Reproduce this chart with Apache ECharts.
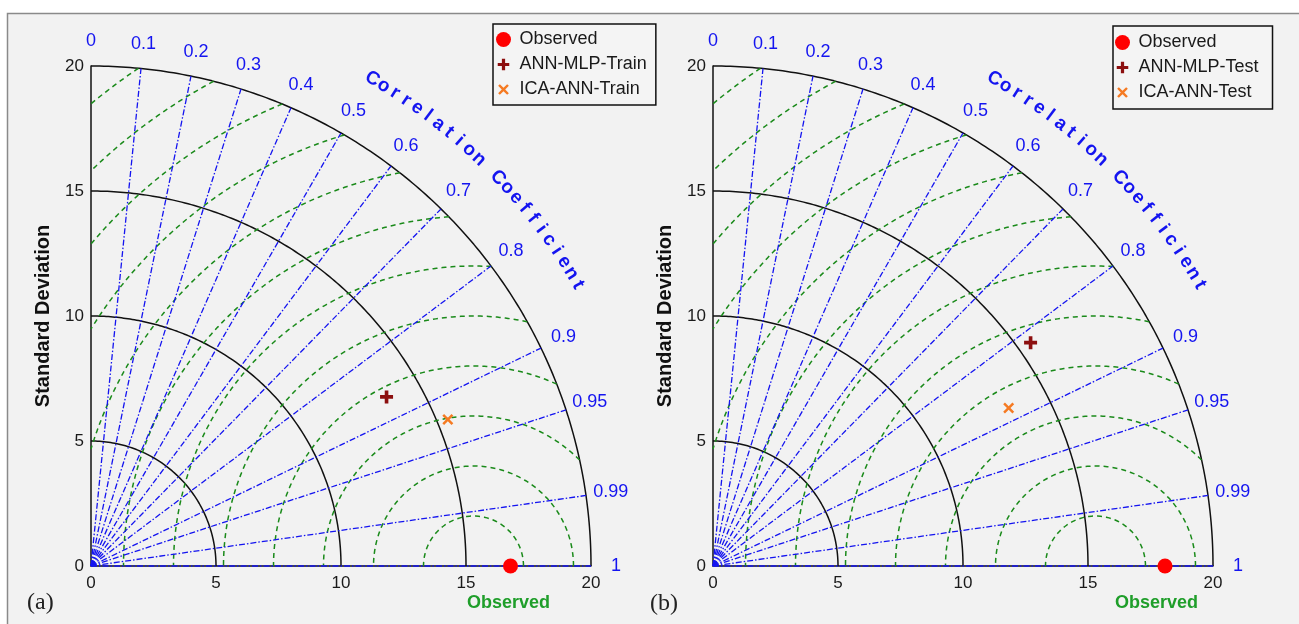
<!DOCTYPE html>
<html><head><meta charset="utf-8">
<script src="https://cdn.jsdelivr.net/npm/echarts@6/dist/echarts.min.js"></script>
<style>html,body{margin:0;padding:0;background:#fff}#c{width:1299px;height:624px}</style>
</head><body><div id="c"></div>
<script>
// ---------- data ----------
const radiusTicks = [0, 5, 10, 15, 20];
const stdCircles = [5, 10, 15, 20];
const corrLines = [0.1, 0.2, 0.3, 0.4, 0.5, 0.6, 0.7, 0.8, 0.9, 0.95, 0.99, 1];
const corrLabelValues = [0, 0.1, 0.2, 0.3, 0.4, 0.5, 0.6, 0.7, 0.8, 0.9, 0.95, 0.99, 1];
const corrLabelTexts = ['0', '0.1', '0.2', '0.3', '0.4', '0.5', '0.6', '0.7', '0.8', '0.9', '0.95', '0.99', '1'];
const rmsRadii = [2, 4, 6, 8, 10, 12, 14, 16, 18, 20, 22, 24];
const rmsCenter = 15.3;
const maxStd = 20;
const curvedTitle = 'Correlation Coefficient';
const obsName = 'Observed';

const namesA = ['ANN-MLP-Train', 'ICA-ANN-Train'];
const stdA = [13.62, 15.43];
const corrA = [0.868, 0.925];
const obsStdA = 16.78;

const namesB = ['ANN-MLP-Test', 'ICA-ANN-Test'];
const stdB = [15.53, 13.41];
const corrB = [0.818, 0.882];
const obsStdB = 18.08;

// ---------- styles ----------
const FONT = 'Liberation Sans, Arial, sans-serif';
const BLUE = '#1414f0';
const GREEN = '#1a8a1a';
const plusPath = 'path://M3.6,0H6.4V3.6H10V6.4H6.4V10H3.6V6.4H0V3.6H3.6Z';
const xPath = 'path://M1.6,0L5,3.4L8.4,0L10,1.6L6.6,5L10,8.4L8.4,10L5,6.6L1.6,10L0,8.4L3.4,5L0,1.6Z';
const plusIcon = 'path://M-1.5,-1.5M11.5,-1.5M-1.5,11.5M11.5,11.5M3.6,0H6.4V3.6H10V6.4H6.4V10H3.6V6.4H0V3.6H3.6Z';
const xIcon = 'path://M-2,-2M12,-2M-2,12M12,12M1.6,0L5,3.4L8.4,0L10,1.6L6.6,5L10,8.4L8.4,10L5,6.6L1.6,10L0,8.4L3.4,5L0,1.6Z';
const modelSymbols = [plusPath, xPath];
const modelIcons = [plusIcon, xIcon];
const modelColors = ['#8c0f0f', '#f57a22'];
const modelSizes = [13, 11];

function pol(s, c) { return [s * c, s * Math.sqrt(Math.max(0, 1 - c * c))]; }

function baseLine(gi, data, lineStyle, z) {
  return { type: 'line', xAxisIndex: gi, yAxisIndex: gi, data: data, showSymbol: false, symbol: 'none',
    silent: true, clip: false, lineStyle: Object.assign({ opacity: 1 }, lineStyle), z: z || 2, animation: false };
}

function textSeries(gi, data, label) {
  return { type: 'scatter', xAxisIndex: gi, yAxisIndex: gi, silent: true, clip: false, symbolSize: 1,
    itemStyle: { color: 'rgba(0,0,0,0)', opacity: 1 }, z: 5, data: data,
    label: Object.assign({ show: true, position: 'inside', formatter: p => p.name, opacity: 1, fontFamily: FONT }, label) };
}

function panelSeries(gi, names, stds, corrs, obsStd, obsLabelX) {
  const out = [];
  stdCircles.forEach(r => {
    const d = [];
    for (let a = 0; a <= 90.001; a += 0.5) { const t = a * Math.PI / 180; d.push([r * Math.cos(t), r * Math.sin(t)]); }
    out.push(baseLine(gi, d, { color: '#111', width: 1.5 }, 3));
  });
  corrLines.forEach(c => {
    out.push(baseLine(gi, [[0, 0], pol(maxStd, c)], { color: BLUE, width: 1.3, type: [6, 2, 1.5, 2] }, 4));
  });
  rmsRadii.forEach(R => {
    const c = rmsCenter;
    let cmin = (maxStd * maxStd - c * c - R * R) / (2 * c * R);
    cmin = Math.max(-1, Math.min(1, cmin));
    let cmax = Math.max(-1, Math.min(1, -c / R));
    const p0 = Math.acos(cmin), p1 = Math.acos(cmax);
    if (p1 <= p0) return;
    const d = [];
    const n = 160;
    for (let i = 0; i <= n; i++) { const p = p0 + (p1 - p0) * i / n; d.push([c + R * Math.cos(p), R * Math.sin(p)]); }
    out.push(baseLine(gi, d, { color: GREEN, width: 1.5, type: [5, 4] }, 3));
  });
  out.push(textSeries(gi, corrLabelValues.map((c, i) => ({ value: pol(21, c), name: corrLabelTexts[i] })),
    { color: BLUE, fontSize: 18 }));
  const chars = curvedTitle.split('');
  const nC = chars.length;
  out.push(textSeries(gi, chars.map((ch, i) => {
      const th = 60 - i * 30 / (nC - 1);
      const t = th * Math.PI / 180;
      return { value: [22.5 * Math.cos(t), 22.5 * Math.sin(t)], name: ch, label: { rotate: th - 90 } };
    }), { color: BLUE, fontSize: 19, fontWeight: 'bold' }));
  out.push(textSeries(gi, [{ value: [obsLabelX, -1.5], name: obsName }],
    { color: '#1f9e2a', fontSize: 18, fontWeight: 'bold' }));
  out.push({ type: 'scatter', name: obsName, xAxisIndex: gi, yAxisIndex: gi, clip: false, symbol: 'circle', symbolSize: 15,
    itemStyle: { color: '#ff0000', opacity: 1 }, z: 10, data: [pol(obsStd, 1)] });
  names.forEach((nm, i) => {
    out.push({ type: 'scatter', name: nm, xAxisIndex: gi, yAxisIndex: gi, clip: false, symbol: modelSymbols[i],
      symbolSize: modelSizes[i], itemStyle: { color: modelColors[i], opacity: 1 }, z: 10, data: [pol(stds[i], corrs[i])] });
  });
  return out;
}

function mkX(gi) {
  return { type: 'value', gridIndex: gi, min: 0, max: 20, interval: 5,
    axisLine: { show: true, onZero: false, lineStyle: { color: '#111', width: 1.5 } },
    axisTick: { show: false }, splitLine: { show: false },
    axisLabel: { color: '#1a1a1a', fontSize: 17, fontFamily: FONT, margin: 9 } };
}
function mkY(gi) {
  return { type: 'value', gridIndex: gi, min: 0, max: 20, interval: 5,
    name: 'Standard Deviation', nameLocation: 'middle', nameGap: 38, nameRotate: 90,
    nameTextStyle: { color: '#111', fontSize: 20, fontWeight: 'bold', fontFamily: FONT },
    axisLine: { show: true, onZero: false, lineStyle: { color: '#111', width: 1.5 } },
    axisTick: { show: false }, splitLine: { show: false },
    axisLabel: { color: '#1a1a1a', fontSize: 17, fontFamily: FONT, margin: 7 } };
}
function mkLegend(left, top, names, pad) {
  return { left: left, top: top, orient: 'vertical', selectedMode: false,
    data: [{ name: obsName, icon: 'circle' }].concat(names.map((n, i) => ({ name: n, icon: modelIcons[i] }))),
    itemWidth: 22, itemHeight: 15, itemGap: 6, padding: pad,
    borderColor: '#111', borderWidth: 1.5, backgroundColor: '#f4f4f4',
    textStyle: { fontSize: 18, lineHeight: 19, color: '#1a1a1a', fontFamily: FONT } };
}

const chart = echarts.init(document.getElementById('c'), null, { renderer: 'canvas' });
chart.setOption({
  animation: false,
  backgroundColor: '#ffffff',
  graphic: [
    { type: 'rect', z: -10, silent: true, shape: { x: 7.5, y: 13.5, width: 1400, height: 700 },
      style: { fill: '#f2f2f2', stroke: '#8a8a8a', lineWidth: 1.5 } },
    { type: 'text', left: 27, top: 591, silent: true, style: { text: '(a)', font: '24px "Liberation Serif", "Times New Roman", serif', fill: '#222' } },
    { type: 'text', left: 650, top: 592, silent: true, style: { text: '(b)', font: '24px "Liberation Serif", "Times New Roman", serif', fill: '#222' } }
  ],
  grid: [
    { left: 91, top: 66, width: 500, height: 500 },
    { left: 713, top: 66, width: 500, height: 500 }
  ],
  xAxis: [mkX(0), mkX(1)],
  yAxis: [mkY(0), mkY(1)],
  legend: [mkLegend(493, 24, namesA, [6, 9, 6, 3]), mkLegend(1113, 26, namesB, [7, 14, 7, 2])],
  series: panelSeries(0, namesA, stdA, corrA, obsStdA, 16.7).concat(panelSeries(1, namesB, stdB, corrB, obsStdB, 17.74))
});
</script></body></html>
